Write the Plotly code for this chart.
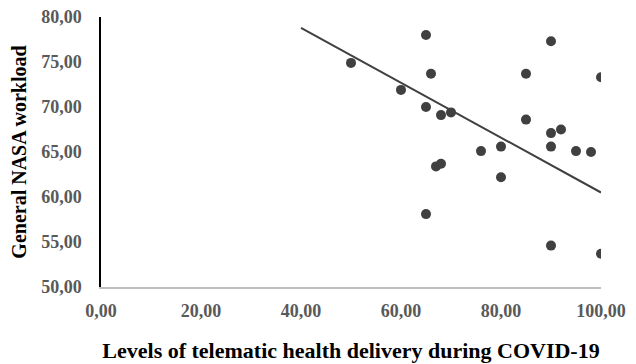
import plotly.graph_objects as go

x_levels = [50, 65, 66, 60, 65, 68, 70, 85, 90, 100, 85, 90, 92, 90, 95, 98, 76, 80, 67, 68, 80, 65, 90, 100]
y_workload = [74.9, 78.0, 73.7, 71.9, 70.0, 69.1, 69.4, 73.7, 77.3, 73.3, 68.6, 67.1, 67.5, 65.6, 65.1, 65.0, 65.1, 65.6, 63.4, 63.7, 62.2, 58.1, 54.6, 53.7]
trend_x = [40, 100]
trend_y = [78.8, 60.5]

x_title = "Levels of telematic health delivery during COVID-19"
y_title = "General NASA workload"

serif = "Liberation Serif, Times New Roman, serif"

fig = go.Figure()
fig.add_trace(go.Scatter(x=trend_x, y=trend_y, mode="lines",
                         line=dict(color="#404040", width=2), hoverinfo="skip"))
fig.add_trace(go.Scatter(x=x_levels, y=y_workload, mode="markers",
                         marker=dict(color="#404040", size=10)))

fig.update_layout(
    width=636, height=364,
    margin=dict(l=93, r=43, t=9, b=85),
    paper_bgcolor="white", plot_bgcolor="white",
    showlegend=False,
    separators=",.",
    xaxis=dict(range=[0, 100], dtick=20, tickformat=".2f", showgrid=False, zeroline=False,
               automargin=False, ticklabeloverflow="allow",
               showline=True, linecolor="#bfbfbf", linewidth=1.5, ticks="",
               ticklabelstandoff=7,
               tickfont=dict(family=serif, size=18, color="#595959", weight="bold"),
               title=dict(text=x_title, font=dict(family=serif, size=22, color="black", weight="bold"),
                          standoff=22)),
    yaxis=dict(range=[50, 80], dtick=5, tickformat=".2f", showgrid=False, zeroline=False,
               automargin=False, ticklabeloverflow="allow",
               showline=True, linecolor="black", linewidth=1.5, ticks="",
               ticklabelstandoff=14,
               tickfont=dict(family=serif, size=18, color="#595959", weight="bold"),
               title=dict(text=y_title, font=dict(family=serif, size=20, color="black", weight="bold"),
                          standoff=9)),
)

fig.write_html("out.html")
